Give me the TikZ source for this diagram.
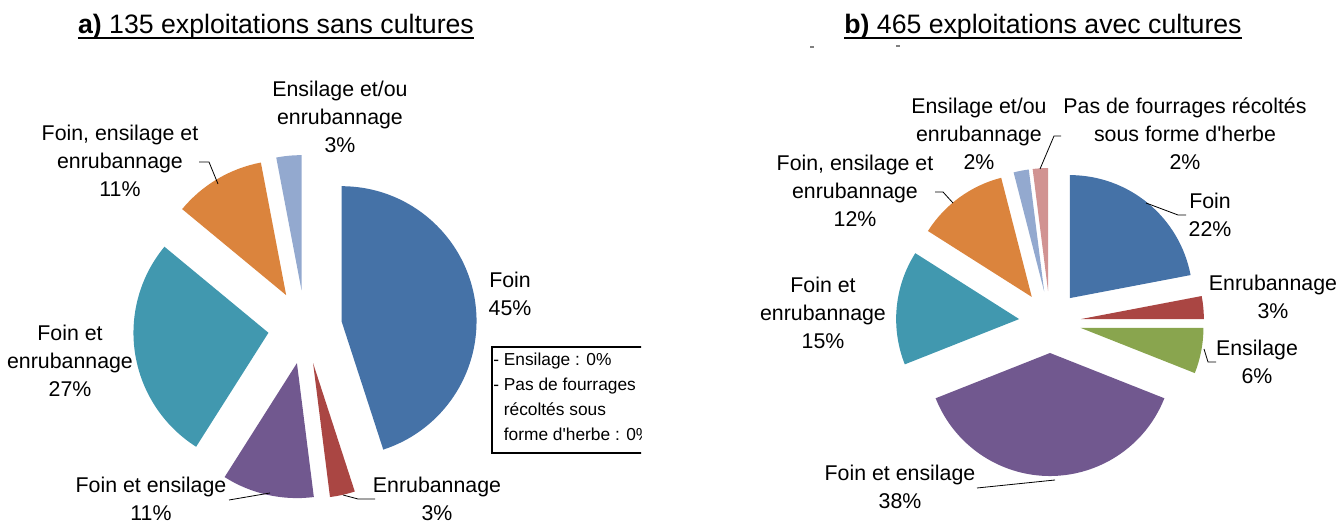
\documentclass[tikz,border=0pt]{standalone}
\usepackage{fontspec}
\setmainfont{Liberation Sans}
\usetikzlibrary{calc}
\definecolor{pieblue}{HTML}{4572A7}
\definecolor{piered}{HTML}{AA4643}
\definecolor{piegreen}{HTML}{89A54E}
\definecolor{piepurple}{HTML}{71588F}
\definecolor{pieteal}{HTML}{4198AF}
\definecolor{pieorange}{HTML}{DB843D}
\definecolor{pielight}{HTML}{93A9CF}
\definecolor{piepink}{HTML}{D19392}
\tikzset{
  lbl/.style={align=center,inner sep=0pt,font=\fontsize{16}{21}\selectfont},
  ttl/.style={inner sep=0pt,font=\fontsize{20}{24}\selectfont},
  note/.style={align=left,inner sep=0pt,font=\fontsize{13}{18.75}\selectfont},
  leader/.style={black,line width=0.6pt},
}

\begin{document}
\begin{tikzpicture}[x=0.75pt,y=0.75pt]
\useasboundingbox (0,0) rectangle (1336,524);
\coordinate (pa) at (305,197);
\coordinate (pb) at (1050,202);
% titles
\node[ttl,anchor=base] (titleA) at (276,490) {\textbf{a)} 135 exploitations sans cultures};
\node[ttl,anchor=base] (titleB) at (1043,490) {\textbf{b)} 465 exploitations avec cultures};
\draw[line width=1.3pt] ($(titleA.base west)+(0,-4)$) -- ($(titleA.base east)+(0,-4)$);
\draw[line width=1.3pt] ($(titleB.base west)+(0,-4)$) -- ($(titleB.base east)+(0,-4)$);
\draw[gray,line width=0.8pt] (810,477) -- (814,477);
\draw[gray,line width=0.8pt] (896,478) -- (900,478);
% pie a, exploded slices
\foreach \a/\b/\col in {90/-72/pieblue,-72/-82.8/piered,-82.8/-122.4/piepurple,
    -122.4/-219.6/pieteal,-219.6/-259.2/pieorange,-259.2/-270/pielight}
  \fill[\col] ($(pa)+({(\a+\b)/2}:37)$) -- +(\a:135) arc[start angle=\a,end angle=\b,radius=135] -- cycle;
% pie b, exploded slices
\foreach \a/\b/\col in {90/10.8/pieblue,10.8/0/piered,0/-21.6/piegreen,-21.6/-158.4/piepurple,
    -158.4/-212.4/pieteal,-212.4/-255.6/pieorange,-255.6/-262.8/pielight,-262.8/-270/piepink}
  \fill[\col] ($(pb)+({(\a+\b)/2}:31)$) -- +(\a:123) arc[start angle=\a,end angle=\b,radius=123] -- cycle;
% labels a
\node[lbl] (aEou) at (340,407) {Ensilage et/ou\\enrubannage\\3\%};
\node[lbl] (aFEE) at (120,363) {Foin, ensilage et\\enrubannage\\11\%};
\node[lbl] (aFoin) at (510,230) {Foin\\45\%};
\node[lbl] (aFEnr) at (70,163) {Foin et\\enrubannage\\27\%};
\node[lbl] (aFEns) at (151,25) {Foin et ensilage\\11\%};
\node[lbl] (aEnr) at (437,25) {Enrubannage\\3\%};
\coordinate (aFEE1) at (199,362);
\coordinate (aFEE2) at (209,362);
\coordinate (aFEE3) at (218,340);
\draw[leader] (aFEE1) -- (aFEE2) -- (aFEE3);
\coordinate (aFEns1) at (229,24);
\coordinate (aFEns2) at (270,31);
\draw[leader] (aFEns1) -- (aFEns2);
\coordinate (aEnr1) at (343,29);
\coordinate (aEnr2) at (358,25);
\coordinate (aEnr3) at (375,25);
\draw[leader] (aEnr1) -- (aEnr2) -- (aEnr3);
% note box, cut at the chart edge
\begin{scope}
\clip (0,0) rectangle (641,524);
\draw[black,line width=0.8pt] (492,71) rectangle (700,177);
\node[note,anchor=west] (aNote) at (493,127) {- Ensilage : 0\%\\- Pas de fourrages\\\hphantom{- }récoltés sous\\\hphantom{- }forme d\textquotesingle herbe : 0\%};
\end{scope}
% labels b
\node[lbl] (bEou) at (979,390) {Ensilage et/ou\\enrubannage\\2\%};
\node[lbl] (bPas) at (1185,390) {Pas de fourrages récoltés\\sous forme d\textquotesingle herbe\\2\%};
\node[lbl] (bFEE) at (855,333) {Foin, ensilage et\\enrubannage\\12\%};
\node[lbl] (bFoin) at (1210,309) {Foin\\22\%};
\node[lbl] (bEnr) at (1273,227) {Enrubannage\\3\%};
\node[lbl] (bEns) at (1257,162) {Ensilage\\6\%};
\node[lbl] (bFEnr) at (823,211) {Foin et\\enrubannage\\15\%};
\node[lbl] (bFEns) at (900,37) {Foin et ensilage\\38\%};
\coordinate (bPas1) at (1061,388);
\coordinate (bPas2) at (1054,388);
\coordinate (bPas3) at (1040,355);
\draw[leader] (bPas1) -- (bPas2) -- (bPas3);
\coordinate (bFEE1) at (935,332);
\coordinate (bFEE2) at (943,332);
\coordinate (bFEE3) at (953,321);
\draw[leader] (bFEE1) -- (bFEE2) -- (bFEE3);
\coordinate (bFoin1) at (1146,321);
\coordinate (bFoin2) at (1178,309);
\coordinate (bFoin3) at (1186,309);
\draw[leader] (bFoin1) -- (bFoin2) -- (bFoin3);
\coordinate (bEns1) at (1204,175);
\coordinate (bEns2) at (1208,162);
\coordinate (bEns3) at (1216,162);
\draw[leader] (bEns1) -- (bEns2) -- (bEns3);
\coordinate (bFEns1) at (977,36);
\coordinate (bFEns2) at (1055,44);
\draw[leader] (bFEns1) -- (bFEns2);
\end{tikzpicture}
\end{document}
